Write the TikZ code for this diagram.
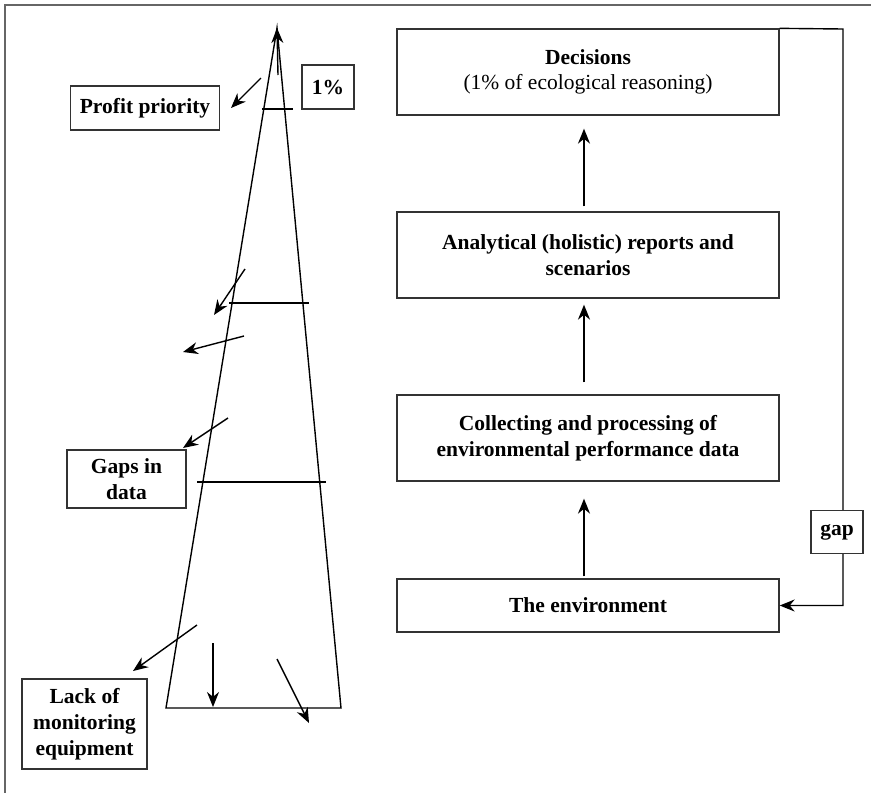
\documentclass[tikz,border=0pt]{standalone}
\usepackage{fontspec}
\setmainfont{Liberation Serif}
\usetikzlibrary{arrows.meta}
\begin{document}
\begin{tikzpicture}[x=1pt,y=-1pt,
  box/.style={draw=black!80, line width=1.3pt, fill=white, align=center, inner sep=0pt, font=\fontsize{21.5}{26}\selectfont\bfseries},
  arr/.style={-{Stealth[length=15pt,width=12pt]}, line width=1.4pt},
  cone/.style={line width=1.4pt}]
\useasboundingbox (0,0) rectangle (871,793);
% partial frame
\draw[black!60, line width=1.8pt] (5,793) -- (5,5) -- (871,5);

% right-hand chain
\node[box, minimum width=382, minimum height=86] (dec) at (588,72)
  {Decisions\\[-1pt]{\mdseries (1\% of ecological reasoning)}};
\node[box, minimum width=382, minimum height=86] (ana) at (588,255)
  {Analytical (holistic) reports and\\scenarios};
\node[box, minimum width=382, minimum height=86] (col) at (588,438)
  {Collecting and processing of\\environmental performance data};
\node[box, minimum width=382, minimum height=53] (env) at (588,605.5)
  {The environment};

\draw[arr, shorten <=5pt, shorten >=13pt] ([xshift=-4pt]ana.north) -- ([xshift=-4pt]dec.south);
\draw[arr, shorten <=12pt, shorten >=6pt] ([xshift=-4pt]col.north) -- ([xshift=-4pt]ana.south);
\draw[arr, shorten <=2pt, shorten >=17pt] ([xshift=-4pt]env.north) -- ([xshift=-4pt]col.south);

% feedback loop
\coordinate (fb) at (843,29);
\draw[arr] (dec.north east) -- (fb) |- (env.east);
\node[box, minimum width=52, minimum height=43] (gap) at (837,532) {gap};

% cone
\coordinate (apex) at (277,28);
\coordinate (bl) at (166,708);
\coordinate (br) at (341,708);
\draw[cone] (bl) -- (apex) -- (br) -- cycle;
\draw[cone] (262,109) -- (293,109);
\draw[cone] (229,303) -- (309,303);
\draw[cone] (197,482) -- (326,482);

% left labels
\node[box, minimum width=52, minimum height=44] (pct) at (328,87) {1\%};
\node[box, minimum width=149, minimum height=44] (profit) at (145,108) {Profit priority};
\node[box, minimum width=119, minimum height=58] (gaps) at (126.5,479) {Gaps in\\data};
\node[box, minimum width=125, minimum height=90] (lack) at (84.5,724) {Lack of\\monitoring\\equipment};

% small arrows
\coordinate (u1) at (278,75);
\draw[arr] (u1) -- (apex);
\coordinate (s1) at (261,78);  \coordinate (e1) at (231,108);
\draw[arr] (s1) -- (e1);
\coordinate (s2) at (245,269); \coordinate (e2) at (214,315);
\draw[arr] (s2) -- (e2);
\coordinate (s3) at (244,336); \coordinate (e3) at (183,352);
\draw[arr] (s3) -- (e3);
\coordinate (s4) at (228,418); \coordinate (e4) at (183,448);
\draw[arr] (s4) -- (e4);
\coordinate (s5) at (197,625); \coordinate (e5) at (133,671);
\draw[arr] (s5) -- (e5);
\coordinate (s6) at (213,643); \coordinate (e6) at (213,707);
\draw[arr] (s6) -- (e6);
\coordinate (s7) at (277,659); \coordinate (e7) at (309,723);
\draw[arr] (s7) -- (e7);
\end{tikzpicture}
\end{document}
